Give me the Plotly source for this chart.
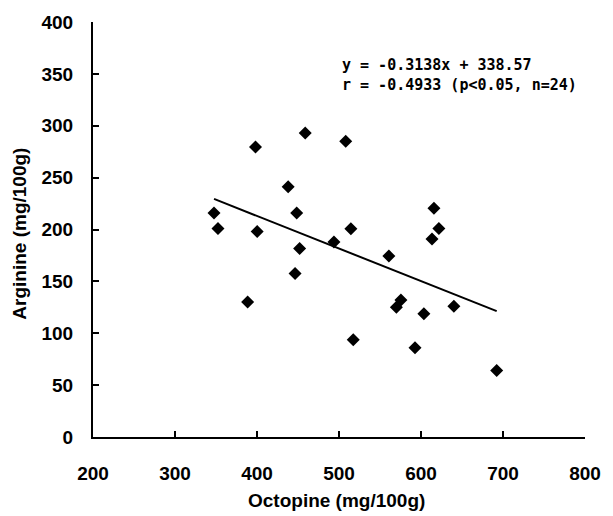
import plotly.graph_objects as go

# Data
octopine = [347.6, 352.4, 398.2, 400.2, 388.6, 458.8, 438.0, 448.4, 452.0, 446.4,
            508.2, 493.8, 514.5, 517.4, 560.8, 570.0, 575.5, 592.7, 603.5, 615.8,
            613.4, 621.8, 640.1, 692.3]
arginine = [215.8, 201.0, 279.5, 198.1, 130.2, 293.0, 241.3, 215.9, 181.7, 157.7,
            285.0, 187.9, 200.7, 93.7, 174.4, 125.0, 132.1, 86.0, 118.9, 220.6,
            190.8, 201.0, 126.0, 64.1]
slope = -0.3138
intercept = 338.57
x_ticks = [200, 300, 400, 500, 600, 700, 800]
y_ticks = [0, 50, 100, 150, 200, 250, 300, 350, 400]
eq_lines = ["y = -0.3138x + 338.57", "r = -0.4933 (p<0.05, n=24)"]

line_x = [min(octopine), max(octopine)]
line_y = [slope * v + intercept for v in line_x]

fig = go.Figure()
fig.add_trace(go.Scatter(x=line_x, y=line_y, mode="lines",
                         line=dict(color="black", width=2), hoverinfo="skip"))
fig.add_trace(go.Scatter(x=octopine, y=arginine, mode="markers",
                         marker=dict(symbol="diamond", size=10, color="black",
                                     line=dict(width=0))))

tickfont = dict(family="Liberation Sans, Arial", size=19, color="black", weight="bold")

fig.update_layout(
    width=613, height=516,
    margin=dict(l=93, r=18, t=21, b=79),
    paper_bgcolor="white", plot_bgcolor="white",
    showlegend=False,
    xaxis=dict(range=[200, 800], tickvals=x_ticks, ticks="inside", ticklen=6, tickwidth=2,
               tickcolor="black", showline=True, linecolor="black", linewidth=2,
               showgrid=False, zeroline=False, tickfont=tickfont, ticklabelstandoff=18),
    yaxis=dict(range=[0, 400], tickvals=y_ticks, ticks="inside", ticklen=6, tickwidth=2,
               tickcolor="black", showline=True, linecolor="black", linewidth=2,
               showgrid=False, zeroline=False, tickfont=tickfont, ticklabelstandoff=14),
)

title_font = dict(family="Liberation Sans, Arial", size=19, color="black", weight="bold")
fig.add_annotation(text="Octopine (mg/100g)", xref="paper", yref="paper", x=0.494, y=0,
                   yshift=-63, xanchor="center", yanchor="middle", showarrow=False,
                   font=title_font)
fig.add_annotation(text="Arginine (mg/100g)", xref="paper", yref="paper", x=0, y=0.49,
                   xshift=-73, textangle=-90, xanchor="center", yanchor="middle",
                   showarrow=False, font=title_font)

eq_font = dict(family="DejaVu Sans Mono", size=15, color="black", weight="bold")
fig.add_annotation(text="<br>".join(eq_lines), xref="paper", yref="paper",
                   x=0.5017, y=0.873, xanchor="left", yanchor="middle", align="left",
                   showarrow=False, font=eq_font)

fig.write_html("out.html")
